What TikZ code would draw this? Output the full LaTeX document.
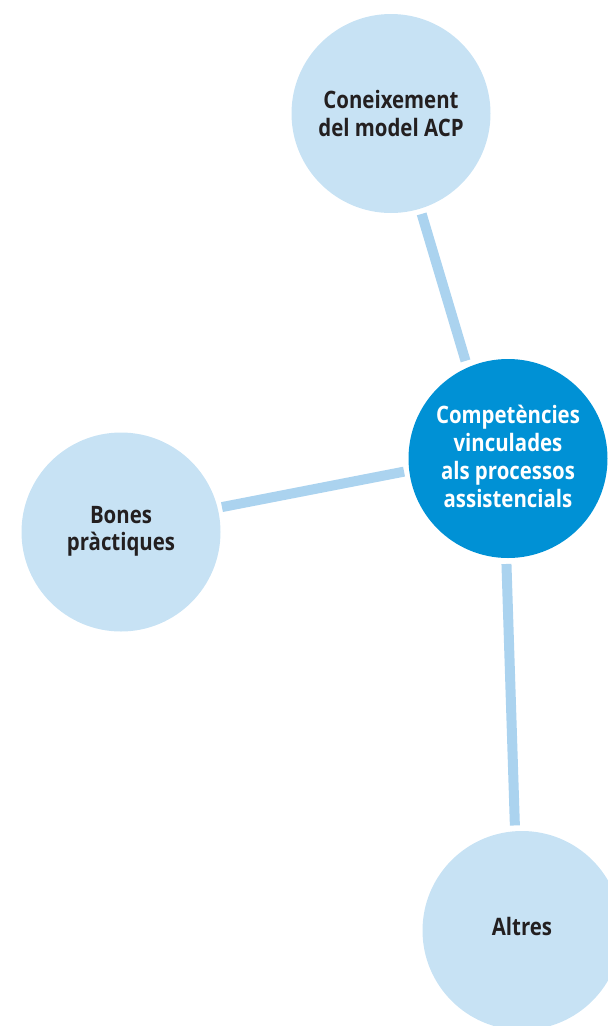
\documentclass[tikz,border=0pt]{standalone}
\usepackage{fontspec}
\newfontfamily\lblfont{Open Sans}[FakeStretch=0.85]
\definecolor{lightc}{HTML}{C7E2F4}
\definecolor{connc}{HTML}{ABD3EF}
\definecolor{mainc}{HTML}{0091D5}
\definecolor{txt}{HTML}{231F20}
\tikzset{
  bubble/.style={circle, minimum size=199pt, inner sep=0pt, outer sep=0pt, fill=lightc},
  hub/.style={bubble, fill=mainc},
  lbl/.style={inner sep=0pt, text=txt, align=center},
  conn/.style={draw=connc, line width=10pt}
}
\newcommand{\lblsize}[1]{\lblfont\bfseries\fontsize{24}{#1}\selectfont}
\begin{document}
\begin{tikzpicture}[x=1pt,y=-1pt]
\useasboundingbox (0,0) rectangle (608,1026);
\clip (0,0) rectangle (608,1026);
\node[bubble] (top) at (391,113.5) {};
\node[hub] (cen) at (508,458.5) {};
\node[bubble] (left) at (121,532) {};
\node[bubble] (bot) at (522,930.5) {};
\node[lbl, font=\lblsize{27.3}] (toplbl) at (top.center) {Coneixement\\del model ACP};
\node[lbl, font=\lblsize{28}, text=white] (cenlbl) at ([yshift=1.7pt]cen.center) {Competències\\vinculades\\als processos\\assistencials};
\node[lbl, font=\lblsize{26.5}] (leftlbl) at ([yshift=0.5pt]left.center) {Bones\\pràctiques};
\node[lbl, font=\lblsize{27}] (botlbl) at ([yshift=3.6pt]bot.center) {Altres};
\draw[conn, shorten <=5.5pt, shorten >=7pt] (top.-73) -- (cen.114);
\draw[conn, shorten <=4.5pt, shorten >=5.3pt] (left.14.5) -- (cen.187.2);
\draw[conn, shorten <=6pt, shorten >=5.8pt] (cen.269.2) -- (bot.94.1);
\end{tikzpicture}
\end{document}
